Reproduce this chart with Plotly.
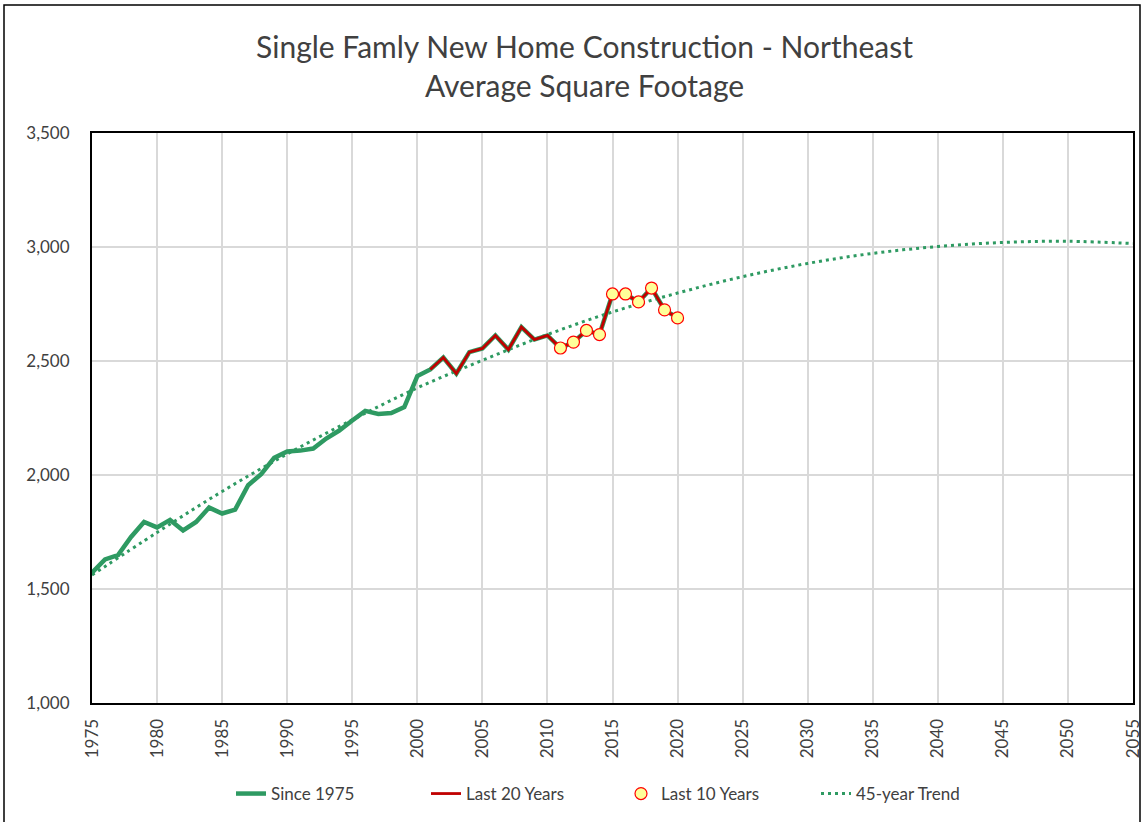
import plotly.graph_objects as go

# ---- data ----
years = list(range(1975, 2021))
sqft = [1571, 1630, 1649, 1728, 1794, 1770, 1803, 1757, 1794, 1857, 1831, 1848,
        1955, 2004, 2075, 2103, 2107, 2116, 2160, 2195, 2239, 2281, 2268, 2272,
        2298, 2434, 2463, 2515, 2445, 2539, 2555, 2612, 2550, 2649, 2594, 2612,
        2557, 2583, 2634, 2616, 2794, 2794, 2759, 2820, 2724, 2689]

trend_years = list(range(1975, 2056, 5))
trend_vals = [1561, 1748, 1928, 2092, 2242, 2382, 2503, 2616, 2715, 2798,
              2870, 2928, 2972, 3002, 3020, 3025, 3015]

last20_years = years[-20:]
last20_vals = sqft[-20:]
last10_years = years[-10:]
last10_vals = sqft[-10:]

GREEN = "#2E9A62"
RED = "#C00000"
TXT = "#404040"
FONT = "Lato"

W, H = 1142, 822
L, R, T, B = 92, 9, 133, 119
PW, PH = W - L - R, H - T - B

fig = go.Figure()

fig.add_trace(go.Scatter(
    x=trend_years, y=trend_vals, mode="lines", name="45-year Trend",
    line=dict(color=GREEN, width=3, dash="3px,4px", shape="spline"),
    legendrank=4, hoverinfo="skip"))

fig.add_trace(go.Scatter(
    x=years, y=sqft, mode="lines", name="Since 1975",
    line=dict(color=GREEN, width=4.5), legendrank=1))

fig.add_trace(go.Scatter(
    x=last20_years, y=last20_vals, mode="lines", name="Last 20 Years",
    line=dict(color=RED, width=2.8), legendrank=2))

fig.add_trace(go.Scatter(
    x=last10_years, y=last10_vals, mode="markers", name="Last 10 Years",
    marker=dict(size=12, color="#FFFF99", line=dict(color="#FF0000", width=1.2)),
    legendrank=3))

# chart border (outer frame)
fig.add_shape(type="rect", xref="paper", yref="paper",
              x0=(4 - L) / PW, x1=(1140 - L) / PW,
              y0=(H - B - 830) / PH, y1=(H - B - 5) / PH,
              line=dict(color="black", width=1.5), fillcolor="rgba(0,0,0,0)",
              layer="below")

fig.update_layout(
    width=W, height=H,
    margin=dict(l=L, r=R, t=T, b=B, autoexpand=False),
    paper_bgcolor="white", plot_bgcolor="white",
    font=dict(family=FONT, color=TXT, size=17),
    title=dict(text="Single Famly New Home Construction - Northeast<br>Average Square Footage",
               x=584.5 / W, xref="container", xanchor="center", y=1 - 58 / H, yanchor="middle",
               font=dict(family=FONT, size=30, color=TXT)),
    showlegend=True,
    legend=dict(orientation="h", x=(231 - L) / PW, xanchor="left",
                y=(H - B - 776) / PH, yanchor="top",
                font=dict(family=FONT, size=17, color=TXT),
                entrywidth=150, bgcolor="rgba(0,0,0,0)"),
    xaxis=dict(range=[1975, 2055], tick0=1975, dtick=5, tickangle=-90,
               showgrid=True, gridcolor="#D9D9D9", gridwidth=2,
               showline=True, linecolor="black", linewidth=2, mirror=True,
               ticks="", zeroline=False, tickfont=dict(size=17, color=TXT),
               ticklabelstandoff=7, automargin=False, ticklabeloverflow="allow"),
    yaxis=dict(range=[1000, 3500], tick0=1000, dtick=500, tickformat=",",
               showgrid=True, gridcolor="#D9D9D9", gridwidth=2,
               showline=True, linecolor="black", linewidth=2, mirror=True,
               ticks="", zeroline=False, tickfont=dict(size=17, color=TXT),
               ticklabelstandoff=17, automargin=False, ticklabeloverflow="allow"),
)

fig.write_html("out.html", config={"displayModeBar": False},
               post_script="document.body.style.margin='0';document.body.style.overflow='hidden';")
